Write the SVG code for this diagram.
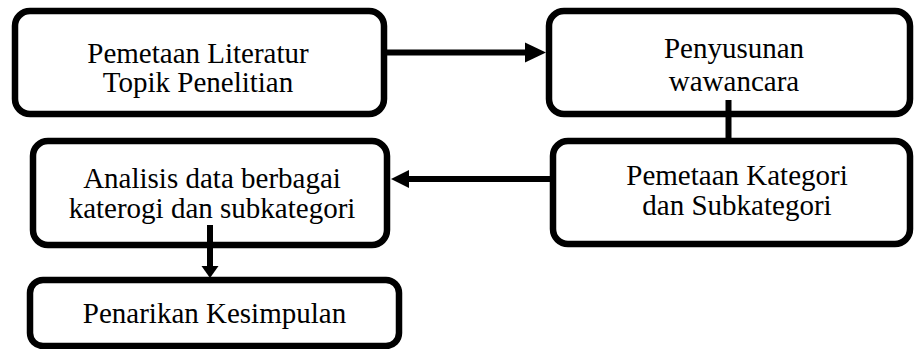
<svg xmlns="http://www.w3.org/2000/svg" width="917" height="349" viewBox="0 0 917 349">
<style>
.box{fill:#fff;stroke:#000;stroke-width:6.5}
.t{font-family:"Liberation Serif","Times New Roman",serif;font-size:29px;fill:#000;text-anchor:middle}
.c{stroke:#000;stroke-width:6;fill:none}
.h{fill:#000}
</style>
<rect width="917" height="349" fill="#fff"/>
<g id="n1"><rect class="box" x="15" y="11" width="369" height="103" rx="15"/>
<text class="t" x="198" y="63">Pemetaan Literatur</text><text class="t" x="198" y="92">Topik Penelitian</text></g>
<g id="n2"><rect class="box" x="549" y="11" width="361" height="103" rx="15"/>
<text class="t" x="734" y="58">Penyusunan</text><text class="t" x="734" y="91">wawancara</text></g>
<g id="n3"><rect class="box" x="553" y="141" width="357" height="103" rx="15"/>
<text class="t" x="737" y="185">Pemetaan Kategori</text><text class="t" x="737" y="215">dan Subkategori</text></g>
<g id="n4"><rect class="box" x="33" y="141" width="354" height="104" rx="15"/>
<text class="t" x="212" y="188">Analisis data berbagai</text><text class="t" x="212" y="218">katerogi dan subkategori</text></g>
<g id="n5"><rect class="box" x="30" y="280" width="369" height="66" rx="13"/>
<text class="t" x="214.5" y="323">Penarikan Kesimpulan</text></g>
<g id="connectors">
<line class="c" x1="387" y1="52.5" x2="527" y2="52.5"/>
<polygon class="h" points="525,42.5 546,52.5 525,62.5"/>
<line class="c" x1="728.5" y1="100" x2="728.5" y2="138"/>
<line class="c" x1="550" y1="179" x2="406" y2="179"/>
<polygon class="h" points="409,170 391,179 409,188"/>
<line class="c" x1="210" y1="225" x2="210" y2="268"/>
<polygon class="h" points="201.5,266 210,278 218.5,266"/>
</g>
</svg>
